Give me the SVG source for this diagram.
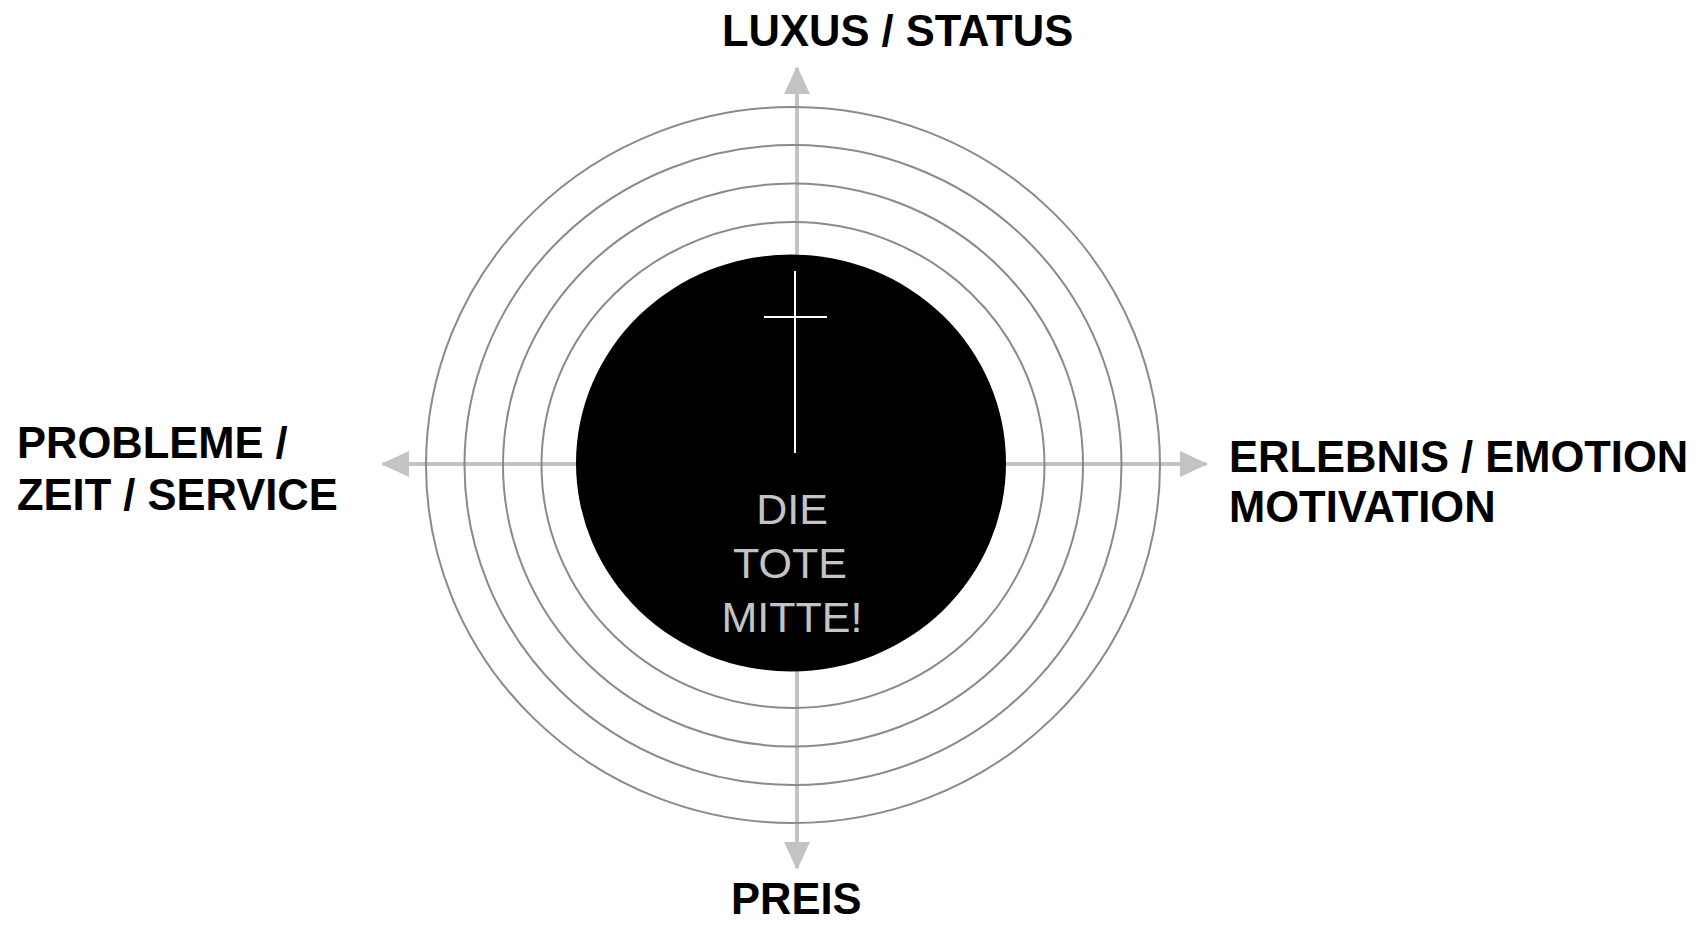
<svg xmlns="http://www.w3.org/2000/svg" width="1707" height="926" viewBox="0 0 1707 926">
  <style>
    .axis { stroke: #c3c3c3; stroke-width: 4; fill: none; }
    .ring { stroke: #8a8a8a; stroke-width: 2; fill: none; }
    .label { font-family: "Liberation Sans", Arial, sans-serif; font-weight: bold; font-size: 43.5px; fill: #000; }
    .center { font-family: "Liberation Sans", Arial, sans-serif; font-size: 43px; fill: #c4c4c4; text-anchor: middle; }
    .cross { stroke: #ffffff; stroke-width: 2; }
  </style>
  <defs>
    <marker id="arrow" viewBox="0 0 28 26" refX="26" refY="13" markerWidth="28" markerHeight="26" markerUnits="userSpaceOnUse" orient="auto">
      <path d="M0,0 L28,13 L0,26 Z" fill="#c3c3c3"/>
    </marker>
  </defs>
  <rect x="0" y="0" width="1707" height="926" fill="#ffffff"/>

  <g id="connectors">
    <line class="axis" x1="797" y1="464" x2="797" y2="68" marker-end="url(#arrow)"/>
    <line class="axis" x1="797" y1="464" x2="797" y2="868" marker-end="url(#arrow)"/>
    <line class="axis" x1="797" y1="464" x2="383" y2="464" marker-end="url(#arrow)"/>
    <line class="axis" x1="797" y1="464" x2="1206" y2="464" marker-end="url(#arrow)"/>
  </g>

  <g id="rings">
    <ellipse class="ring" cx="793" cy="465" rx="367" ry="358"/>
    <ellipse class="ring" cx="793" cy="465" rx="328.5" ry="320"/>
    <ellipse class="ring" cx="793" cy="465" rx="290" ry="281.5"/>
    <ellipse class="ring" cx="793" cy="465" rx="251.5" ry="243"/>
  </g>

  <g id="tote-mitte">
    <ellipse cx="791" cy="463" rx="215" ry="208.5" fill="#000000"/>
    <line class="cross" x1="795" y1="271" x2="795" y2="453"/>
    <line class="cross" x1="764" y1="317" x2="827" y2="317"/>
    <text class="center" x="792" y="524">DIE</text>
    <text class="center" x="790" y="578">TOTE</text>
    <text class="center" x="792" y="632">MITTE!</text>
  </g>

  <g id="luxus">
    <text class="label" x="722" y="46">LUXUS / STATUS</text>
  </g>
  <g id="probleme">
    <text class="label" x="17" y="458">PROBLEME /</text>
    <text class="label" x="17" y="510">ZEIT / SERVICE</text>
  </g>
  <g id="erlebnis">
    <text class="label" x="1229" y="472">ERLEBNIS / EMOTION</text>
    <text class="label" x="1229" y="522">MOTIVATION</text>
  </g>
  <g id="preis">
    <text class="label" x="731" y="914">PREIS</text>
  </g>
</svg>
